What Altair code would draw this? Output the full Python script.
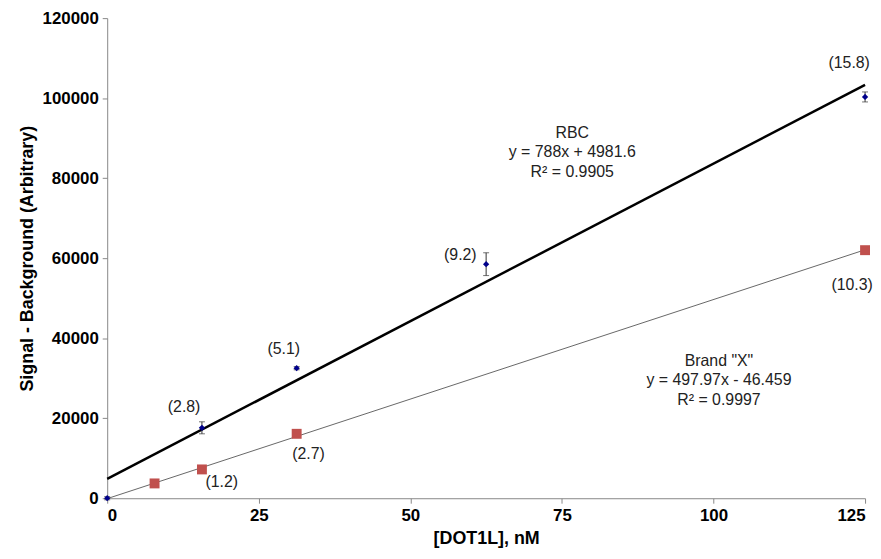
import altair as alt
import pandas as pd

# ---- data ----
rbc_x = [0, 15.625, 31.25, 62.5, 125]
rbc_y = [0, 17600, 32500, 58500, 100300]
rbc_err = [400, 1500, 400, 2850, 1250]
rbc_lbl = ["", "(2.8)", "(5.1)", "(9.2)", "(15.8)"]

bx_x = [7.8125, 15.625, 31.25, 125]
bx_y = [3700, 7200, 16100, 62000]
bx_lbl = ["", "(1.2)", "(2.7)", "(10.3)"]

eq_rbc = ["RBC", "y = 788x + 4981.6", "R² = 0.9905"]
eq_bx = ['Brand "X"', "y = 497.97x - 46.459", "R² = 0.9997"]
eq_anchor_x = [76.7, 100.9]
eq_anchor_y = [93300, 36300]

x_ticks = [0, 25, 50, 75, 100, 125]
y_ticks = [0, 20000, 40000, 60000, 80000, 100000, 120000]

FONT = "Liberation Sans"

rbc = pd.DataFrame({"x": rbc_x, "y": rbc_y, "err": rbc_err, "lbl": rbc_lbl})
rbc["lo"] = rbc["y"] - rbc["err"]
rbc["hi"] = rbc["y"] + rbc["err"]
bx = pd.DataFrame({"x": bx_x, "y": bx_y, "lbl": bx_lbl})

xs = alt.Scale(domain=[0, 125], nice=False, zero=False)
ys = alt.Scale(domain=[0, 120000], nice=False)

X = alt.X("x:Q", scale=xs, axis=alt.Axis(values=x_ticks, title="[DOT1L], nM", format="d"))
Y = alt.Y("y:Q", scale=ys, axis=alt.Axis(values=y_ticks, title="Signal - Background (Arbitrary)", format="d"))

base_rbc = alt.Chart(rbc)
base_bx = alt.Chart(bx)

line_rbc = base_rbc.transform_regression("x", "y", extent=[0, 125]).mark_line(
    color="black", strokeWidth=2.5).encode(x=X, y=Y)
line_bx = base_bx.transform_regression("x", "y", extent=[0, 125]).mark_line(
    color="#666666", strokeWidth=1).encode(x=X, y=Y)

err_rule = base_rbc.mark_rule(color="#333333", strokeWidth=1).encode(
    x=X, y=alt.Y("lo:Q", scale=ys), y2="hi:Q")
cap_lo = base_rbc.mark_tick(color="#333333", thickness=1, size=6, orient="horizontal").encode(
    x=X, y=alt.Y("lo:Q", scale=ys))
cap_hi = base_rbc.mark_tick(color="#333333", thickness=1, size=6, orient="horizontal").encode(
    x=X, y=alt.Y("hi:Q", scale=ys))

pts_rbc = base_rbc.mark_point(shape="diamond", filled=True, color="#00008B", size=40, opacity=1).encode(x=X, y=Y)
pts_bx = base_bx.mark_point(shape="square", filled=True, color="#C0504D", size=100, opacity=1).encode(x=X, y=Y)

# point labels, each with its own offset
rbc_off = [(0, 0), (-18, -21), (-13, -19), (-26, -9), (-16, -34)]
bx_off = [(0, 0), (20, 13), (12, 20), (-13, 35)]
labels = []
for i, (dx, dy) in enumerate(rbc_off):
    if rbc_lbl[i]:
        labels.append(alt.Chart(rbc.iloc[[i]]).mark_text(
            font=FONT, fontSize=16, color="#222222", dx=dx, dy=dy).encode(x=X, y=Y, text="lbl:N"))
for i, (dx, dy) in enumerate(bx_off):
    if bx_lbl[i]:
        labels.append(alt.Chart(bx.iloc[[i]]).mark_text(
            font=FONT, fontSize=16, color="#222222", dx=dx, dy=dy).encode(x=X, y=Y, text="lbl:N"))

eq_df = pd.DataFrame({"x": eq_anchor_x, "y": eq_anchor_y,
                      "t": ["\n".join(eq_rbc), "\n".join(eq_bx)]})
eqs = alt.Chart(eq_df).mark_text(font=FONT, fontSize=16, color="#222222", lineBreak="\n",
                                 baseline="top", align="center", lineHeight=19.5).encode(
    x=X, y=Y, text="t:N")

chart = alt.layer(line_rbc, line_bx, err_rule, cap_lo, cap_hi, pts_bx, pts_rbc, *labels, eqs).properties(
    width=764, height=484,
    autosize=alt.AutoSizeParams(type="none"),
    padding={"left": 100, "top": 8, "right": 8, "bottom": 51},
).configure_view(stroke=None).configure_axis(
    grid=False, domainColor="#888888", tickColor="#888888", tickSize=5,
    labelFont=FONT, labelFontSize=17, labelFontWeight="bold", labelColor="black",
    titleFont=FONT, titleFontSize=18, titleFontWeight="bold", titleColor="black",
).configure_axisY(labelPadding=4, titlePadding=6).configure_axisX(labelPadding=4, titlePadding=7)

chart.save("out.html", embed_options={"renderer": "svg", "actions": False})
